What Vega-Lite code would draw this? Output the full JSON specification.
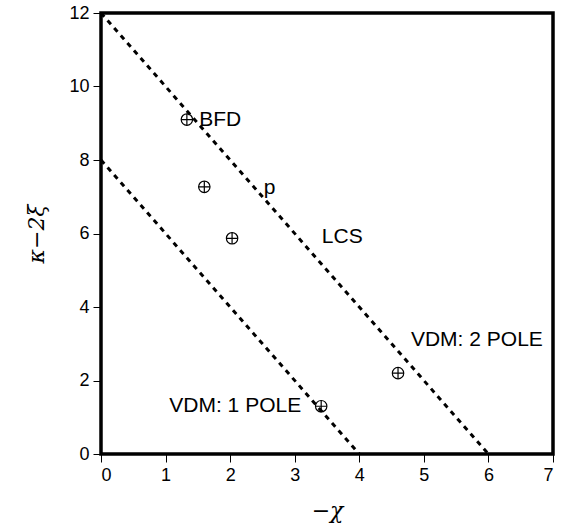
{
  "$schema": "https://vega.github.io/schema/vega-lite/v6.json",
  "autosize": {"type": "none"},
  "padding": {"left": 101, "top": 13, "right": 12, "bottom": 70},
  "width": 452,
  "height": 441,
  "config": {
    "view": {"stroke": "black", "strokeWidth": 3.5},
    "axis": {
      "grid": false,
      "domain": false,
      "tickColor": "black",
      "tickSize": 8,
      "tickWidth": 1,
      "labelFont": "Liberation Sans",
      "labelFontSize": 18,
      "labelColor": "black",
      "labelPadding": 4,
      "titleFont": "DejaVu Serif",
      "titleFontSize": 22,
      "titleFontWeight": "normal",
      "titleFontStyle": "italic",
      "titleColor": "black"
    }
  },
  "datasets": {
    "lines": [
      {"series": "2 pole", "x": 0, "y": 12},
      {"series": "2 pole", "x": 6, "y": 0},
      {"series": "1 pole", "x": 0, "y": 8},
      {"series": "1 pole", "x": 4, "y": 0}
    ],
    "points": [
      {"x": 1.33, "y": 9.1},
      {"x": 1.6, "y": 7.27},
      {"x": 2.03, "y": 5.87},
      {"x": 4.6, "y": 2.2},
      {"x": 3.41, "y": 1.3}
    ],
    "labels": [
      {"x": 1.52, "y": 9.1, "text": "BFD"},
      {"x": 2.52, "y": 7.25, "text": "p"},
      {"x": 3.42, "y": 5.9, "text": "LCS"},
      {"x": 4.8, "y": 3.1, "text": "VDM: 2 POLE"}
    ],
    "labels2": [
      {"x": 3.1, "y": 1.3, "text": "VDM: 1 POLE"}
    ]
  },
  "layer": [
    {
      "data": {"name": "lines"},
      "mark": {"type": "line", "color": "black", "strokeWidth": 3, "strokeDash": [5, 5]},
      "encoding": {
        "x": {"field": "x", "type": "quantitative", "scale": {"domain": [0, 7], "nice": false}, "axis": {"values": [0, 1, 2, 3, 4, 5, 6, 7], "format": "d", "title": "−χ", "titlePadding": 16}},
        "y": {"field": "y", "type": "quantitative", "scale": {"domain": [0, 12], "nice": false}, "axis": {"values": [0, 2, 4, 6, 8, 10, 12], "format": "d", "title": "κ−2ξ", "titlePadding": 20}},
        "detail": {"field": "series"}
      }
    },
    {
      "data": {"name": "points"},
      "mark": {"type": "point", "shape": "circle", "filled": false, "color": "black", "strokeWidth": 1.2, "size": 130, "opacity": 1},
      "encoding": {
        "x": {"field": "x", "type": "quantitative"},
        "y": {"field": "y", "type": "quantitative"}
      }
    },
    {
      "data": {"name": "points"},
      "mark": {"type": "point", "shape": "M-1,0L1,0M0,-1L0,1", "filled": false, "color": "black", "strokeWidth": 1.2, "size": 130, "opacity": 1},
      "encoding": {
        "x": {"field": "x", "type": "quantitative"},
        "y": {"field": "y", "type": "quantitative"}
      }
    },
    {
      "data": {"name": "labels"},
      "mark": {"type": "text", "align": "left", "baseline": "middle", "font": "Liberation Sans", "fontSize": 21, "color": "black"},
      "encoding": {
        "x": {"field": "x", "type": "quantitative"},
        "y": {"field": "y", "type": "quantitative"},
        "text": {"field": "text"}
      }
    },
    {
      "data": {"name": "labels2"},
      "mark": {"type": "text", "align": "right", "baseline": "middle", "font": "Liberation Sans", "fontSize": 21, "color": "black"},
      "encoding": {
        "x": {"field": "x", "type": "quantitative"},
        "y": {"field": "y", "type": "quantitative"},
        "text": {"field": "text"}
      }
    }
  ]
}
